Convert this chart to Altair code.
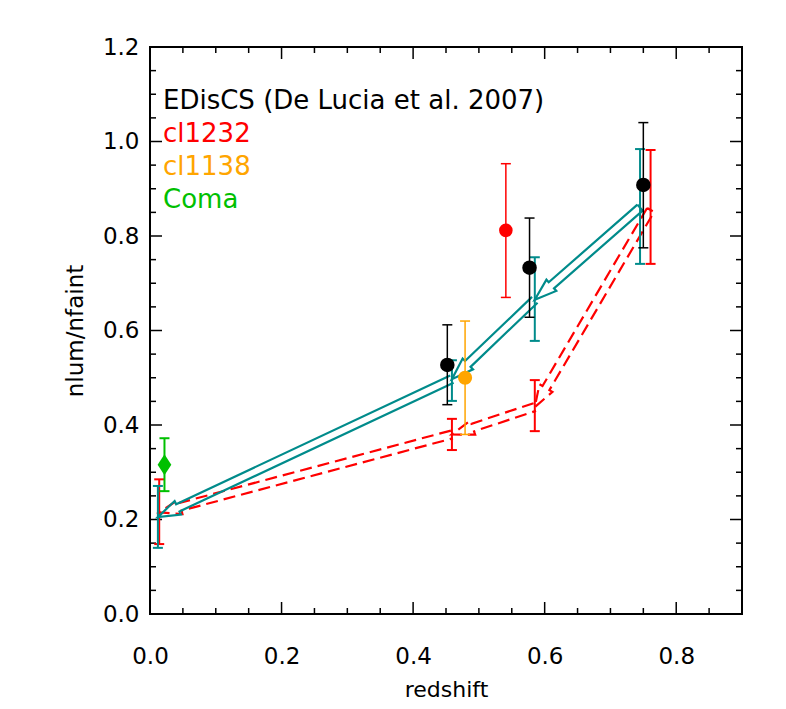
import altair as alt
import pandas as pd
import numpy as np

# ---------------- data ----------------
ediscs_z = [0.452, 0.577, 0.750]
ediscs_r = [0.527, 0.733, 0.908]
ediscs_lo = [0.443, 0.628, 0.775]
ediscs_hi = [0.612, 0.838, 1.040]

cl1232_z = [0.541]
cl1232_r = [0.812]
cl1232_lo = [0.670]
cl1232_hi = [0.953]

cl1138_z = [0.479]
cl1138_r = [0.500]
cl1138_lo = [0.380]
cl1138_hi = [0.620]

coma_z = [0.022]
coma_r = [0.316]
coma_lo = [0.260]
coma_hi = [0.372]

# model tracks (arrows), from high z to low z
teal_z = [0.745, 0.585, 0.459, 0.012]
teal_r = [0.860, 0.665, 0.497, 0.205]
teal_lo = [0.741, 0.578, 0.451, 0.140]
teal_hi = [0.984, 0.755, 0.537, 0.271]

red_z = [0.761, 0.585, 0.459, 0.014]
red_r = [0.855, 0.438, 0.380, 0.215]
red_lo = [0.741, 0.387, 0.347, 0.148]
red_hi = [0.982, 0.495, 0.413, 0.285]

x_major = [0.0, 0.2, 0.4, 0.6, 0.8]
x_minor = [0.05, 0.1, 0.15, 0.25, 0.3, 0.35, 0.45, 0.5, 0.55, 0.65, 0.7, 0.75, 0.85]
y_major = [0.0, 0.2, 0.4, 0.6, 0.8, 1.0, 1.2]
y_minor = [0.05, 0.1, 0.15, 0.25, 0.3, 0.35, 0.45, 0.5, 0.55, 0.65, 0.7, 0.75,
           0.85, 0.9, 0.95, 1.05, 1.1, 1.15]

legend_labels = ["EDisCS (De Lucia et al. 2007)", "cl1232", "cl1138", "Coma"]
legend_colors = ["black", "#FF0000", "#FFA500", "#00C000"]

# ---------------- layout ----------------
W, H = 592, 567
XMAX, YMAX = 0.9, 1.2
TEAL = "#008B8B"
RED = "#FF0000"
FONT = "DejaVu Sans"
LEG_Y = [54, 87, 120, 153]

xs = alt.Scale(domain=[0, XMAX], nice=False, zero=False)
ys = alt.Scale(domain=[0, YMAX], nice=False, zero=False)


def to_px(x, y):
    return np.array([x / XMAX * W, H - y / YMAX * H])


def to_data(p):
    return p[0] / W * XMAX, (H - p[1]) / H * YMAX


def arrow_outline(zs, rs, w=4.0, L=22.0, Wh=7.5):
    rows = []
    for k in range(len(zs) - 1):
        p0 = to_px(zs[k], rs[k])
        p1 = to_px(zs[k + 1], rs[k + 1])
        d = p1 - p0
        d = d / np.hypot(*d)
        n = np.array([-d[1], d[0]])
        pb = p1 - d * L
        pts = [p0 + n * w, pb + n * w, pb + n * Wh, p1, pb - n * Wh, pb - n * w, p0 - n * w]
        if k == 0:
            pts.append(p0 + n * w)
        for i, p in enumerate(pts):
            x, y = to_data(p)
            rows.append({"x": x, "y": y, "seg": k, "i": i})
    return pd.DataFrame(rows)


def errbars(z, lo, hi, color, width=2):
    df = pd.DataFrame({"z": z, "lo": lo, "hi": hi})
    base = alt.Chart(df)
    bar = base.mark_rule(color=color, strokeWidth=width).encode(
        x=alt.X("z:Q", scale=xs), y=alt.Y("lo:Q", scale=ys), y2="hi:Q")
    cap_lo = base.mark_rule(color=color, strokeWidth=width, xOffset=-5, x2Offset=5).encode(
        x=alt.X("z:Q", scale=xs), x2="z:Q", y=alt.Y("lo:Q", scale=ys))
    cap_hi = base.mark_rule(color=color, strokeWidth=width, xOffset=-5, x2Offset=5).encode(
        x=alt.X("z:Q", scale=xs), x2="z:Q", y=alt.Y("hi:Q", scale=ys))
    return [bar, cap_lo, cap_hi]


def y_ticks(vals, length):
    ydf = pd.DataFrame({"v": vals})
    return [
        alt.Chart(ydf).mark_rule(color="black", strokeWidth=1.5).encode(
            y=alt.Y("v:Q", scale=ys), x=alt.value(0), x2=alt.value(length)),
        alt.Chart(ydf).mark_rule(color="black", strokeWidth=1.5).encode(
            y=alt.Y("v:Q", scale=ys), x=alt.value(W), x2=alt.value(W - length)),
    ]


def x_ticks(vals, length):
    xdf = pd.DataFrame({"v": vals})
    return [
        alt.Chart(xdf).mark_rule(color="black", strokeWidth=1.5).encode(
            x=alt.X("v:Q", scale=xs), y=alt.value(H), y2=alt.value(H - length)),
        alt.Chart(xdf).mark_rule(color="black", strokeWidth=1.5).encode(
            x=alt.X("v:Q", scale=xs), y=alt.value(0), y2=alt.value(length)),
    ]


# axis labels carrier (invisible point)
axis_df = pd.DataFrame({"x": [0.0], "y": [0.0]})
axes = alt.Chart(axis_df).mark_point(opacity=0).encode(
    x=alt.X("x:Q", scale=xs, title="redshift",
            axis=alt.Axis(values=x_major, format=".1f", ticks=False, domain=False, grid=False,
                          labelFlush=False,
                          labelFont=FONT, labelFontSize=23, labelPadding=31, labelColor="black",
                          titleFont=FONT, titleFontSize=22, titleFontWeight="normal",
                          titleColor="black", titleBaseline="alphabetic", titleY=82)),
    y=alt.Y("y:Q", scale=ys, title="nlum/nfaint",
            axis=alt.Axis(values=y_major, format=".1f", ticks=False, domain=False, grid=False,
                          labelFlush=False,
                          labelFont=FONT, labelFontSize=23, labelPadding=11, labelColor="black",
                          titleFont=FONT, titleFontSize=23, titleFontWeight="normal",
                          titleColor="black",
                          titleX=-68, titleY=H / 2, titleBaseline="alphabetic")),
)

layers = [axes] + x_ticks(x_major, 12) + x_ticks(x_minor, 6) + y_ticks(y_major, 12) + y_ticks(y_minor, 6)

# model arrows
teal_arrow = arrow_outline(teal_z, teal_r)
red_arrow = arrow_outline(red_z, red_r)

layers.append(alt.Chart(red_arrow).mark_line(color=RED, strokeWidth=2.2, strokeDash=[12, 6]).encode(
    x=alt.X("x:Q", scale=xs), y=alt.Y("y:Q", scale=ys), detail="seg:N", order="i:Q"))
layers += errbars(red_z, red_lo, red_hi, RED)
layers += errbars(teal_z, teal_lo, teal_hi, TEAL)
layers.append(alt.Chart(teal_arrow).mark_line(color=TEAL, strokeWidth=2.2).encode(
    x=alt.X("x:Q", scale=xs), y=alt.Y("y:Q", scale=ys), detail="seg:N", order="i:Q"))

# observed points
layers += errbars(ediscs_z, ediscs_lo, ediscs_hi, "black", 1.5)
layers.append(alt.Chart(pd.DataFrame({"z": ediscs_z, "r": ediscs_r})).mark_point(
    shape="circle", filled=True, color="black", size=210, opacity=1).encode(
    x=alt.X("z:Q", scale=xs), y=alt.Y("r:Q", scale=ys)))

layers += errbars(cl1232_z, cl1232_lo, cl1232_hi, RED, 1.5)
layers.append(alt.Chart(pd.DataFrame({"z": cl1232_z, "r": cl1232_r})).mark_point(
    shape="circle", filled=True, color=RED, size=185, opacity=1).encode(
    x=alt.X("z:Q", scale=xs), y=alt.Y("r:Q", scale=ys)))

layers += errbars(cl1138_z, cl1138_lo, cl1138_hi, "#FFA500", 1.5)
layers.append(alt.Chart(pd.DataFrame({"z": cl1138_z, "r": cl1138_r})).mark_point(
    shape="circle", filled=True, color="#FFA500", size=200, opacity=1).encode(
    x=alt.X("z:Q", scale=xs), y=alt.Y("r:Q", scale=ys)))

layers += errbars(coma_z, coma_lo, coma_hi, "#00C000", 2)
layers.append(alt.Chart(pd.DataFrame({"z": coma_z, "r": coma_r})).mark_point(
    shape="M0,-1.3L0.85,0L0,1.3L-0.85,0Z", filled=True, color="#00C000", size=260, opacity=1).encode(
    x=alt.X("z:Q", scale=xs), y=alt.Y("r:Q", scale=ys)))

# legend text (one text mark per entry, placed in pixels)
for lab, col, yy in zip(legend_labels, legend_colors, LEG_Y):
    layers.append(alt.Chart(pd.DataFrame({"label": [lab]})).mark_text(
        align="left", baseline="middle", font=FONT, fontSize=26, color=col).encode(
        x=alt.value(13), y=alt.value(yy), text="label:N"))

chart = alt.layer(*layers).properties(
    width=W, height=H,
    autosize=alt.AutoSizeParams(type="none"),
    padding={"left": 142, "top": 39, "right": 36, "bottom": 95},
    background="white",
).configure_view(stroke="black", strokeWidth=2)

chart.save("out.html", embed_options={"renderer": "svg", "actions": False})
